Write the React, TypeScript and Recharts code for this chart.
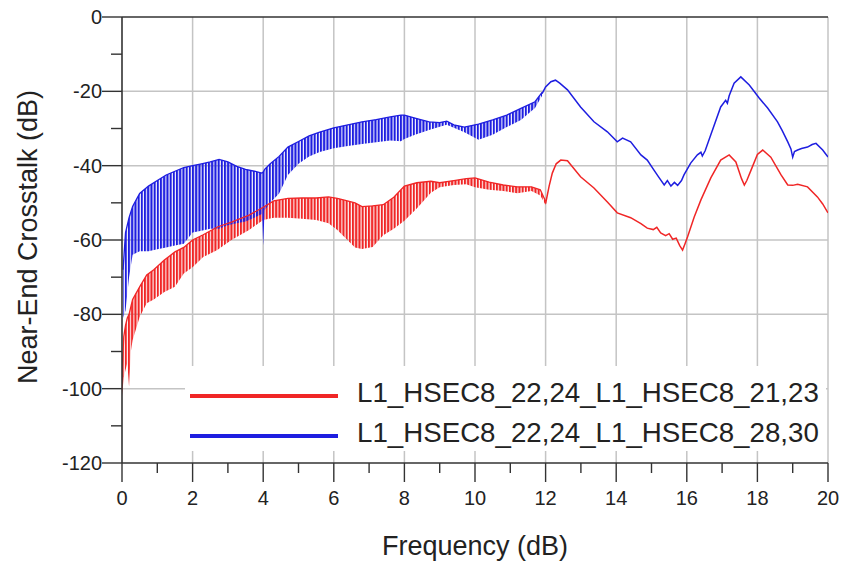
import React from "react";
import {
  Area,
  CartesianGrid,
  ComposedChart,
  Legend,
  Line,
  ReferenceLine,
  XAxis,
  YAxis,
} from "recharts";

const FONT = '"Liberation Sans", Arial, Helvetica, sans-serif';
const BLUE = "#1e1ee0";
const RED = "#f02626";

// axis ticks (every unit labelled on even values only)
const xTicks = [0, 1, 2, 3, 4, 5, 6, 7, 8, 9, 10, 11, 12, 13, 14, 15, 16, 17, 18, 19, 20];
const yTicks = [-120, -110, -100, -90, -80, -70, -60, -50, -40, -30, -20, -10, 0];
const xGrid = [2, 4, 6, 8, 10, 12, 14, 16, 18, 20];
const yGrid = [-100, -80, -60, -40, -20];

// oscillating region, read as [freq, lower envelope, upper envelope]
const blueBand: Array<[number, number, number]> = [
  [0.03, -81, -68], [0.1, -79, -58], [0.2, -70, -54], [0.3, -64, -51],
  [0.5, -63, -47.5], [0.75, -63, -45.5], [1.0, -62.5, -44], [1.25, -62, -42.5],
  [1.5, -61.5, -41.5], [1.75, -61, -40.5], [2.0, -58, -40], [2.25, -57.5, -39.5],
  [2.5, -57, -39], [2.75, -57, -38.3], [3.0, -56, -39], [3.25, -55.5, -40.2],
  [3.5, -55, -41], [3.75, -54, -41.5], [3.96, -53, -42], [4.0, -61.5, -41.7],
  [4.04, -52, -41], [4.2, -50, -39.5], [4.45, -47.5, -37.5], [4.7, -42.5, -35],
  [5.0, -39.5, -33.5], [5.3, -37.5, -32], [5.6, -36.3, -31], [6.0, -35.3, -29.8],
  [6.4, -34.7, -29], [6.8, -34.2, -28.2], [7.2, -33.7, -27.6], [7.6, -33.2, -26.9],
  [7.9, -33.4, -26.4], [8.0, -32.8, -26.4], [8.3, -31.7, -27.2], [8.7, -30.4, -28.2],
  [9.0, -29.5, -28.4], [9.2, -29, -28], [9.4, -29.8, -29], [9.7, -31, -29.6],
  [10.1, -33, -28.8], [10.5, -31.7, -27.7], [10.9, -29.6, -26.4], [11.3, -27.7, -24.6],
  [11.7, -24.5, -22.8], [11.9, -21.2, -20.3],
];

const blueTail: Array<[number, number]> = [
  [11.9, -20.6], [12.0, -18.8], [12.15, -17.4], [12.28, -17], [12.4, -17.8],
  [12.62, -19.6], [12.99, -24.2], [13.37, -28.2], [13.75, -30.9], [14.03, -33.6],
  [14.18, -32.6], [14.41, -33.6], [14.7, -37.1], [14.88, -38.5], [15.07, -41.2],
  [15.2, -43], [15.36, -45.2], [15.45, -44], [15.55, -45.5], [15.65, -44.5],
  [15.74, -45.3], [15.85, -44], [15.92, -42.5], [16.11, -39.3], [16.3, -37.1],
  [16.4, -36.4], [16.44, -37.4], [16.52, -36], [16.68, -31.7], [16.96, -24.2],
  [17.1, -22.4], [17.15, -23.2], [17.2, -21.2], [17.34, -17.8], [17.53, -16.1],
  [17.77, -18.3], [18.05, -21.8], [18.29, -24.5], [18.57, -28.2], [18.7, -30.5],
  [18.86, -33.6], [18.95, -35.5], [19.0, -37.7], [19.05, -36.2], [19.14, -35.8],
  [19.25, -35.4], [19.42, -35], [19.55, -34.3], [19.66, -34], [19.85, -35.8],
  [20.0, -37.7],
];

const redBand: Array<[number, number, number]> = [
  [0.0, -102, -96], [0.05, -97, -86], [0.1, -95, -83], [0.15, -93, -81],
  [0.2, -99.5, -80], [0.25, -90, -78], [0.3, -87, -76], [0.5, -80.7, -72.6],
  [0.7, -77, -69.4], [0.9, -76, -68], [1.2, -74, -65.4], [1.5, -72.6, -63.2],
  [1.75, -69, -62], [2.0, -67.3, -60], [2.3, -64.6, -58.6], [2.7, -62.7, -56.5],
  [3.1, -60, -55.2], [3.6, -57.3, -53.3], [4.0, -54.6, -51.2], [4.3, -54, -49.5],
  [4.7, -54, -48.8], [5.1, -54.3, -48.7], [5.5, -54.6, -48.7], [5.85, -55.5, -48.4],
  [6.1, -57.3, -48.8], [6.3, -59.2, -49.3], [6.6, -62, -50], [6.8, -62.4, -51],
  [7.1, -61.9, -50.8], [7.4, -58.7, -50.5], [7.7, -57, -48.5], [8.0, -54.8, -45.5],
  [8.35, -51.5, -44.6], [8.75, -47.3, -44.2], [9.0, -45.8, -44.6], [9.4, -45.2, -44],
  [9.75, -45, -43.5], [10.0, -45.8, -43.3], [10.4, -46.5, -44.4], [10.8, -46.8, -45.2],
  [11.2, -47.4, -45.7], [11.6, -46.8, -45.7], [11.85, -48, -46.5], [12.0, -50.6, -49.6],
];

const redTail: Array<[number, number]> = [
  [12.0, -50.2], [12.1, -45.5], [12.19, -42], [12.3, -39.5], [12.43, -38.5],
  [12.62, -38.7], [12.99, -43], [13.37, -46], [13.75, -49.8], [14.03, -52.7],
  [14.41, -54], [14.7, -55.6], [14.88, -56.8], [15.05, -57.2], [15.15, -56.6],
  [15.26, -58.1], [15.4, -58.8], [15.5, -58.3], [15.6, -59.8], [15.7, -59.5],
  [15.8, -61.5], [15.88, -62.7], [15.95, -61], [16.02, -59.2], [16.21, -53.8],
  [16.4, -49.2], [16.68, -43.3], [16.96, -38.5], [17.2, -37.1], [17.39, -39],
  [17.55, -43.5], [17.63, -45.2], [17.7, -44], [17.82, -41.2], [18.0, -37],
  [18.15, -35.8], [18.38, -37.7], [18.67, -42.5], [18.86, -45.2], [19.0, -45.3],
  [19.14, -45], [19.42, -45.7], [19.7, -48.4], [19.85, -50.3], [20.0, -52.7],
];

const legendLabels = [
  "L1_HSEC8_22,24_L1_HSEC8_21,23",
  "L1_HSEC8_22,24_L1_HSEC8_28,30",
];
const legendColors = [RED, BLUE];

const toBand = (rows: Array<[number, number, number]>) =>
  rows.map(([f, lo, hi]) => ({ f, range: [lo, hi], hi }));
const toLine = (rows: Array<[number, number]>) => rows.map(([f, v]) => ({ f, v }));

function XTick(props: any) {
  const { x, y, payload } = props;
  const major = payload.value % 2 === 0;
  return (
    <g>
      <line x1={x} x2={x} y1={y} y2={y + (major ? 19 : 10)} stroke="#333" strokeWidth={1.4} />
      {major && (
        <text x={x} y={y + 42} textAnchor="middle" fontSize={20} fill="#222" fontFamily={FONT}>
          {payload.value}
        </text>
      )}
    </g>
  );
}

function YTick(props: any) {
  const { x, y, payload } = props;
  const major = payload.value % 20 === 0;
  return (
    <g>
      <line x1={x - (major ? 20 : 11)} x2={x} y1={y} y2={y} stroke="#333" strokeWidth={1.4} />
      {major && (
        <text x={x - 20} y={y + 7} textAnchor="end" fontSize={20} fill="#222" fontFamily={FONT}>
          {payload.value}
        </text>
      )}
    </g>
  );
}

function LegendBox() {
  return (
    <svg width={641} height={85} style={{ display: "block", background: "#fff" }}>
      {legendLabels.map((label, i) => (
        <g key={label}>
          <line x1={5} x2={153} y1={30 + i * 40} y2={30 + i * 40} stroke={legendColors[i]} strokeWidth={4} />
          <text x={172} y={36 + i * 40} fontSize={27.7} fill="#222" fontFamily={FONT}>
            {label}
          </text>
        </g>
      ))}
    </svg>
  );
}

export default function App() {
  return (
    <div style={{ position: "absolute", left: 0, top: 0, fontFamily: FONT }}>
      <ComposedChart width={841} height={561} margin={{ top: 17, right: 13, bottom: 0, left: 0 }}>
        <defs>
          <pattern id="blueHatch" width={3.2} height={8} patternUnits="userSpaceOnUse">
            <rect x={0} y={0} width={2.1} height={8} fill={BLUE} />
          </pattern>
          <pattern id="redHatch" width={3.2} height={8} patternUnits="userSpaceOnUse">
            <rect x={0} y={0} width={2.1} height={8} fill={RED} />
          </pattern>
        </defs>
        <CartesianGrid
          stroke="#c4c4c4"
          strokeWidth={1.5}
          verticalValues={xGrid}
          horizontalValues={yGrid}
        />
        <ReferenceLine y={0} stroke="#333" strokeWidth={1.6} />
        <XAxis
          dataKey="f"
          type="number"
          domain={[0, 20]}
          ticks={xTicks}
          interval={0}
          allowDataOverflow
          height={98}
          tickSize={0}
          tickMargin={0}
          tickLine={false}
          axisLine={{ stroke: "#333", strokeWidth: 1.6 }}
          tick={(p: any) => <XTick {...p} />}
          label={{
            content: (p: any) => (
              <text
                x={p.viewBox.x + p.viewBox.width / 2}
                y={p.viewBox.y + 92}
                textAnchor="middle"
                fontSize={27}
                fill="#222"
                fontFamily={FONT}
              >
                Frequency (dB)
              </text>
            ),
          }}
        />
        <YAxis
          type="number"
          domain={[-120, 0]}
          ticks={yTicks}
          interval={0}
          allowDataOverflow
          width={122}
          tickSize={0}
          tickMargin={0}
          tickLine={false}
          axisLine={{ stroke: "#333", strokeWidth: 1.6 }}
          tick={(p: any) => <YTick {...p} />}
          label={{
            content: (p: any) => {
              const cy = p.viewBox.y + p.viewBox.height / 2 - 3;
              return (
                <text
                  x={37}
                  y={cy}
                  transform={`rotate(-90 37 ${cy})`}
                  textAnchor="middle"
                  fontSize={27}
                  fill="#222"
                  fontFamily={FONT}
                >
                  Near-End Crosstalk (dB)
                </text>
              );
            },
          }}
        />
        <Area
          data={toBand(redBand)}
          dataKey="range"
          type="linear"
          stroke="none"
          fill="url(#redHatch)"
          fillOpacity={1}
          legendType="none"
          activeDot={false}
          isAnimationActive={false}
        />
        <Line data={toBand(redBand)} dataKey="hi" type="linear" stroke={RED} strokeWidth={1.3} dot={false} legendType="none" isAnimationActive={false} />
        <Line data={toLine(redTail)} dataKey="v" type="linear" stroke={RED} strokeWidth={1.5} dot={false} legendType="none" isAnimationActive={false} />
        <Area
          data={toBand(blueBand)}
          dataKey="range"
          type="linear"
          stroke="none"
          fill="url(#blueHatch)"
          fillOpacity={1}
          legendType="none"
          activeDot={false}
          isAnimationActive={false}
        />
        <Line data={toBand(blueBand)} dataKey="hi" type="linear" stroke={BLUE} strokeWidth={1.3} dot={false} legendType="none" isAnimationActive={false} />
        <Line data={toLine(blueTail)} dataKey="v" type="linear" stroke={BLUE} strokeWidth={1.5} dot={false} legendType="none" isAnimationActive={false} />
        <Legend
          layout="horizontal"
          verticalAlign="middle"
          align="center"
          content={() => <LegendBox />}
          wrapperStyle={{ position: "absolute", left: 185, top: 366, width: 641, height: 85, margin: 0 }}
        />
      </ComposedChart>
    </div>
  );
}
